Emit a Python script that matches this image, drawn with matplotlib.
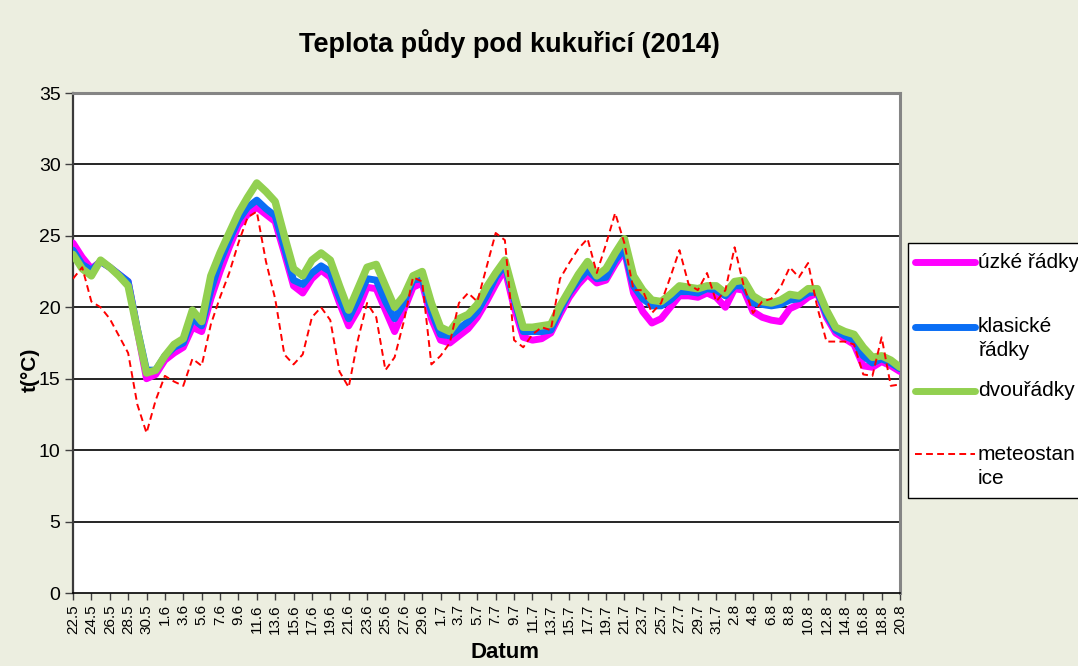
import matplotlib
matplotlib.use("Agg")
import matplotlib.pyplot as plt
from matplotlib.lines import Line2D
from matplotlib.patches import Rectangle
import pandas as pd

plt.rcParams['font.family'] = ['Liberation Sans', 'DejaVu Sans']

# categories: daily dates 22.5. - 20.8. 2014
dates = [f"{d.day}.{d.month}" for d in pd.date_range("2014-05-22", "2014-08-20")]

uzke_radky = [
    24.5, 23.5, 22.7, 23.2, 22.8, 22.3, 21.8, 18.4, 15.0, 15.3,
    16.3, 16.8, 17.2, 18.6, 18.3, 20.6, 22.5, 24.2, 25.7, 26.5,
    27.0, 26.5, 26.0, 23.8, 21.5, 21.0, 22.0, 22.6, 22.1, 20.3,
    18.7, 19.8, 21.4, 21.3, 19.8, 18.3, 19.8, 21.4, 21.7, 19.2,
    17.7, 17.5, 18.0, 18.5, 19.3, 20.4, 21.6, 22.7, 20.0, 17.9,
    17.7, 17.8, 18.2, 19.5, 20.7, 21.6, 22.3, 21.7, 21.9, 23.0,
    24.0, 21.0, 19.7, 18.9, 19.2, 20.0, 20.8, 20.8, 20.7, 21.0,
    20.7, 20.0, 21.3, 21.2, 19.7, 19.3, 19.1, 19.0, 19.9, 20.2,
    20.7, 21.0, 19.3, 18.2, 17.8, 17.4, 15.9, 15.8, 16.2, 15.9,
    15.5]

klasicke_radky = [
    24.0, 23.0, 22.6, 23.2, 22.8, 22.3, 21.8, 18.5, 15.6, 15.6,
    16.6, 17.2, 17.5, 19.2, 18.7, 21.2, 23.2, 24.7, 26.1, 27.0,
    27.5, 26.9, 26.4, 24.2, 21.9, 21.6, 22.4, 22.9, 22.5, 20.7,
    19.2, 20.5, 22.0, 21.9, 20.4, 19.2, 20.3, 21.9, 22.0, 19.7,
    18.1, 18.0, 18.5, 19.0, 19.7, 20.8, 22.1, 23.0, 20.6, 18.3,
    18.3, 18.3, 18.4, 19.8, 21.0, 21.9, 22.6, 22.0, 22.1, 23.3,
    24.1, 21.5, 20.6, 20.1, 20.1, 20.5, 21.1, 21.1, 21.0, 21.3,
    21.2, 20.8, 21.5, 21.5, 20.3, 20.2, 20.1, 20.2, 20.5, 20.6,
    21.0, 21.1, 19.5, 18.4, 18.0, 17.7, 16.6, 16.1, 16.4, 16.1,
    15.7]

dvouradky = [
    23.7, 22.7, 22.2, 23.3, 22.8, 22.2, 21.5, 18.4, 15.4, 15.6,
    16.6, 17.4, 17.8, 19.8, 19.0, 22.2, 23.8, 25.2, 26.6, 27.7,
    28.7, 28.1, 27.4, 25.0, 22.7, 22.2, 23.3, 23.8, 23.3, 21.5,
    19.8, 21.3, 22.8, 23.0, 21.5, 20.0, 20.8, 22.2, 22.5, 20.3,
    18.6, 18.3, 19.2, 19.5, 20.2, 21.4, 22.4, 23.3, 20.9, 18.6,
    18.6, 18.7, 18.8, 20.1, 21.2, 22.3, 23.2, 22.2, 22.7, 23.8,
    24.8, 22.2, 21.2, 20.5, 20.4, 20.9, 21.5, 21.4, 21.3, 21.5,
    21.5, 21.0, 21.8, 21.9, 20.8, 20.4, 20.3, 20.5, 20.9, 20.8,
    21.3, 21.3, 19.8, 18.6, 18.3, 18.1, 17.2, 16.5, 16.6, 16.3,
    15.8]

meteostanice = [
    22.0, 22.8, 20.4, 20.0, 19.2, 18.0, 16.8, 13.2, 11.2, 13.5,
    15.2, 14.8, 14.5, 16.4, 15.9, 18.8, 20.7, 22.4, 24.5, 26.3,
    26.7, 23.2, 20.6, 16.7, 16.0, 16.7, 19.3, 20.0, 19.1, 15.5,
    14.4, 17.7, 20.3, 19.3, 15.6, 16.5, 19.0, 22.1, 21.8, 16.0,
    16.6, 17.5, 20.3, 21.0, 20.4, 22.8, 25.2, 24.7, 17.7, 17.2,
    18.1, 18.6, 18.4, 22.0, 23.1, 24.1, 24.8, 22.4, 24.4, 26.6,
    24.5, 21.2, 21.2, 19.6, 20.3, 22.1, 24.0, 21.6, 21.2, 22.4,
    20.4, 21.2, 24.2, 21.5, 19.6, 20.4, 20.6, 21.4, 22.8, 22.1,
    23.1, 20.0, 17.6, 17.6, 17.6, 17.4, 15.3, 15.2, 17.9, 14.5,
    14.6]

series_labels = ["úzké řádky", "klasické\nřádky", "dvouřádky", "meteostan\nice"]
y_ticks = [0, 5, 10, 15, 20, 25, 30, 35]

W, H = 1078, 666
BG = "#ECEEE0"
fig = plt.figure(figsize=(W / 100, H / 100), dpi=100, facecolor=BG)

def fx(x):
    return x / W

def fy(y):
    return 1 - y / H

ax = fig.add_axes([fx(73), fy(593), fx(900) - fx(73), fy(93) - fy(593)])
ax.set_facecolor("white")

DASH = (0, (3.5, 2.2))
x = list(range(len(dates)))
ax.plot(x, uzke_radky, color="#FF00FF", lw=5.0, solid_capstyle="round", zorder=3)
ax.plot(x, klasicke_radky, color="#0A6EF5", lw=5.0, solid_capstyle="round", zorder=4)
ax.plot(x, dvouradky, color="#92D050", lw=5.4, solid_capstyle="round", zorder=5)
ax.plot(x, meteostanice, color="#FF0000", lw=1.4, ls=DASH, zorder=6)

ax.set_xlim(0, len(dates) - 1)
ax.set_ylim(0, 35)
ax.set_yticks(y_ticks)
ax.set_yticklabels([str(v) for v in y_ticks], fontsize=14)
ax.set_xticks(x[::2])
ax.set_xticklabels(dates[::2], rotation=90, fontsize=11)
ax.tick_params(axis="y", direction="out", length=6, width=1, pad=3, color="#404040")
ax.tick_params(axis="x", direction="out", length=5, width=1, pad=3, color="#404040")

for v in y_ticks[1:-1]:
    ax.axhline(v, color="black", lw=1.2, zorder=1)

for s in ["top", "right"]:
    ax.spines[s].set_color("#858585")
    ax.spines[s].set_linewidth(2.2)
ax.spines["left"].set_color("#3A3A3A")
ax.spines["left"].set_linewidth(1.6)
ax.spines["bottom"].set_color("black")
ax.spines["bottom"].set_linewidth(1.2)

fig.text(fx(509), fy(44), "Teplota půdy pod kukuřicí (2014)", fontsize=19.5,
         fontweight="bold", ha="center", va="center")
fig.text(fx(505), fy(653), "Datum", fontsize=16, fontweight="bold", ha="center", va="center")
fig.text(fx(30), fy(370), "t(°C)", fontsize=15, fontweight="bold", rotation=90,
         ha="center", va="center")

# legend (manually placed at the right edge like the reference)
fig.add_artist(Rectangle((fx(908), fy(498)), fx(1100) - fx(908), fy(243) - fy(498),
                         transform=fig.transFigure, facecolor="white",
                         edgecolor="black", lw=1.0, zorder=10))
leg_rows = [
    (262, "#FF00FF", 5.0, "-", [series_labels[0]]),
    (327, "#0A6EF5", 5.0, "-", series_labels[1].split("\n")),
    (391, "#92D050", 5.0, "-", [series_labels[2]]),
    (454, "#FF0000", 1.4, DASH, series_labels[3].split("\n")),
]
for yy, col, lw, ls, lines in leg_rows:
    fig.add_artist(Line2D([fx(915), fx(975)], [fy(yy), fy(yy)], transform=fig.transFigure,
                          color=col, lw=lw, ls=ls, solid_capstyle="round", zorder=11))
    for k, t in enumerate(lines):
        fig.text(fx(978), fy(yy + 24 * k), t, fontsize=15, ha="left", va="center", zorder=12)

fig.savefig("out.png", dpi=100, facecolor=BG)
